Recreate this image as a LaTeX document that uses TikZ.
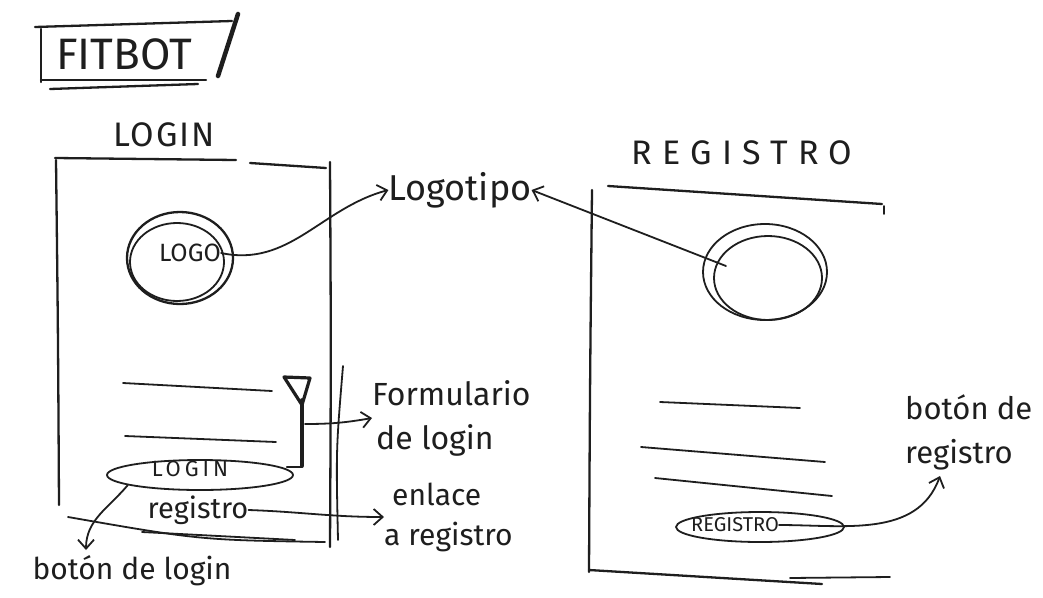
\documentclass[tikz,border=0pt]{standalone}
\usepackage{fontspec}
\setmainfont{Fira Sans}
\usetikzlibrary{arrows.meta,shapes.geometric}
\definecolor{ink}{HTML}{1E1E1E}
\begin{document}
\begin{tikzpicture}[x=1pt,y=-1pt,line cap=round,line join=round,
  pen/.style={line width=2.3pt,draw=ink},
  fine/.style={line width=1.8pt,draw=ink},
  hand/.style={inner sep=0pt,text=ink,font=\fontsize{30}{44}\selectfont},
  tip/.style={-{Straight Barb[length=9pt,width=16pt,line width=1.8pt]}},
  pill/.style={ellipse,draw=ink,line width=1.8pt,inner sep=0pt}]
\fill[white] (0,0) rectangle (1043,597);
\useasboundingbox (0,0) rectangle (1043,597);

% title box
\node[hand,font=\fontsize{44}{44}\selectfont] (title) at (124,54) {FITBOT};
\draw[pen] (35,27) -- (232,21);
\draw[pen] (41,29) -- (41,82);
\draw[pen] (41,80) -- (206,80);
\draw[pen] (50,89) -- (198,84);
\draw[line width=4.5pt,draw=ink] (218,76) -- (238,14);

% login screen
\node[hand,font=\fontsize{34}{34}\selectfont\addfontfeature{LetterSpace=6}] (logintitle) at (164,135) {LOGIN};
\draw[pen] (55,158) -- (236,160);
\draw[pen] (250,163) -- (326,168);
\draw[pen] (56,160) .. controls (58,330) .. (59,505);
\draw[pen] (330,162) .. controls (331,350) .. (330,547);
\draw[fine] (343,366) .. controls (336,450) .. (338,540);
\draw[fine] (68,517) .. controls (200,540) .. (325,542);
\draw[fine] (142,532) -- (295,540);

% logo circle
\draw[pen] (180,258) ellipse [x radius=53,y radius=46];
\draw[fine] (177,262) ellipse [x radius=47,y radius=39];
\node[hand,font=\fontsize{25}{25}\selectfont] (logo) at (190,253) {LOGO};

% form fields
\draw[fine] (123,383) -- (272,391);
\draw[fine] (125,436) -- (276,442);
\draw[line width=3.2pt,draw=ink] (284,377) -- (310,378) -- (302,405) -- cycle;
\draw[line width=3.6pt,draw=ink] (302,400) -- (302,466);
\draw[pen] (287,467) -- (302,467);
\coordinate (brace) at (305,424);

% login button and link
\node[pill,minimum width=186,minimum height=30] (loginbtn) at (200,475) {};
\node[hand,font=\fontsize{22}{22}\selectfont\addfontfeature{LetterSpace=18}] (logintxt) at (190,469) {LOGIN};
\node[hand,font=\fontsize{29}{29}\selectfont] (reglink) at (198,510) {registro};

% labels
\node[hand,font=\fontsize{36}{36}\selectfont] (logotipo) at (460,190) {Logotipo};
\node[hand,anchor=west,align=left,font=\fontsize{32}{44}\selectfont] (formulario) at (372,418) {Formulario\\\hspace*{4pt}de login};
\node[hand,anchor=west,align=left,font=\fontsize{30}{40}\selectfont] (enlace) at (384,517) {\hspace*{8pt}enlace\\a registro};
\node[hand,font=\fontsize{30}{30}\selectfont] (botonlogin) at (132,571) {botón de login};
\coordinate (bl) at (86,550);

% connectors on the login screen
\draw[fine,tip] (logo.east) to[out=-12,in=195] (logotipo.west);
\draw[fine,tip] (brace) to[out=0,in=190] (formulario.west);
\draw[fine,tip] (reglink.east) to[out=-2,in=180] (enlace.west);
\draw[fine,tip] (loginbtn.188) to[out=230,in=90] (bl);

% registration screen
\node[hand,font=\fontsize{34}{34}\selectfont\addfontfeature{LetterSpace=30}] (regtitle) at (742,153) {REGISTRO};
\draw[pen] (608,186) -- (882,204);
\draw[fine] (884,206) -- (884,214);
\draw[pen] (592,190) .. controls (590,380) .. (589,572);
\draw[pen] (589,570) -- (822,584);
\draw[fine] (790,578) -- (890,577);

% avatar circle
\draw[fine] (765,272) ellipse [x radius=62,y radius=48];
\draw[fine] (768,278) ellipse [x radius=54,y radius=42];
\coordinate (avatar) at (726,266);
\draw[fine,tip] (avatar) -- (logotipo.east);

% registration fields
\draw[fine] (660,402) -- (800,408);
\draw[fine] (641,447) -- (825,462);
\draw[fine] (655,478) -- (832,496);

% registration button
\node[pill,minimum width=168,minimum height=30] (regbtn) at (760,527) {};
\node[hand,font=\fontsize{20}{20}\selectfont] (regtxt) at (735,525) {REGISTRO};
\node[hand,anchor=west,align=left,font=\fontsize{31}{44}\selectfont] (botonreg) at (905,432) {botón de\\registro};
\coordinate (br) at (940,476);
\draw[fine,tip] (regtxt.east) to[out=0,in=250] (br);
\end{tikzpicture}
\end{document}
